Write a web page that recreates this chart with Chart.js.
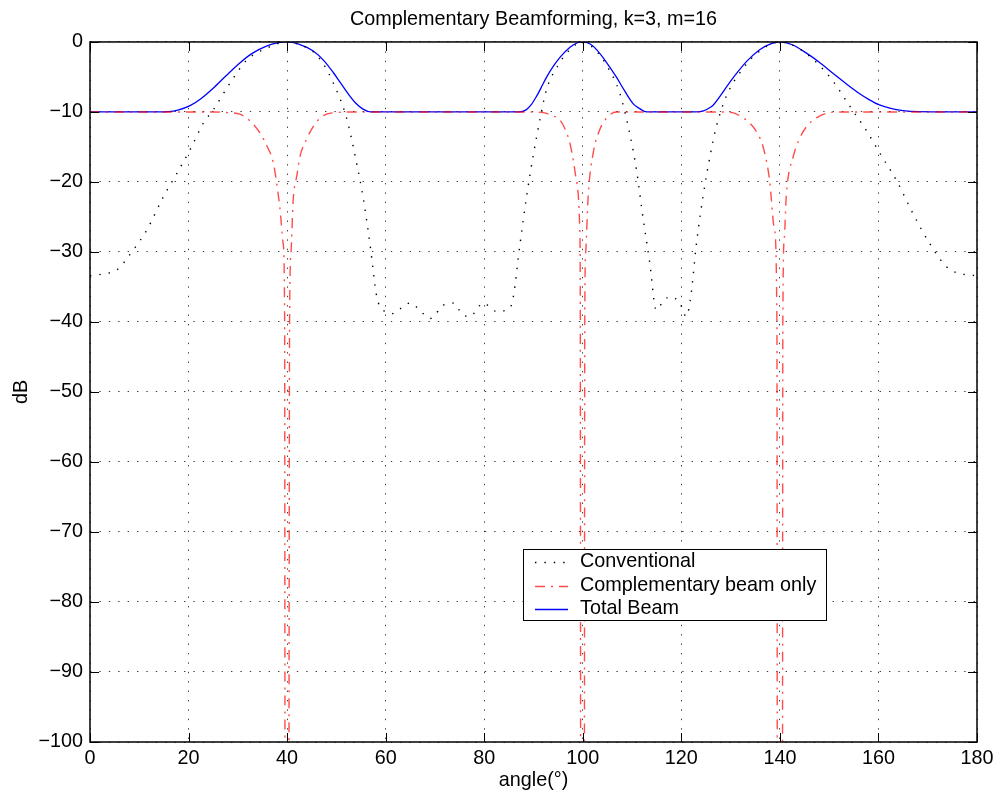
<!DOCTYPE html>
<html>
<head>
<meta charset="utf-8">
<title>Complementary Beamforming</title>
<script src="https://cdn.jsdelivr.net/npm/chart.js@4.4.1/dist/chart.umd.min.js"></script>
<style>
  html, body { margin: 0; padding: 0; background: #fff; }
  canvas { display: block; }
</style>
</head>
<body>
<canvas id="beam_chart" width="1001" height="799"></canvas>
<script>
// values (angle in degrees, level in dB)
const xTicks = [0, 20, 40, 60, 80, 100, 120, 140, 160, 180];
const yTicks = [0, -10, -20, -30, -40, -50, -60, -70, -80, -90, -100];

const convAngle = [0, 3, 5.4, 8.8, 11.5, 14.9, 17.6, 20.3, 23, 25, 28.4, 31.8, 35.8, 40, 44, 45.3, 47.5, 49.4, 52, 54.1,
  55.4, 56.8, 58.2, 59.5, 61.5, 63.2, 64.9, 67.6, 69, 71.7, 73.7, 75.7, 77.1, 79.8, 82.5, 85.2, 85.9, 87.2, 88.6, 89.9,
  91.3, 92.6, 95.3, 97.5, 100, 102.5, 104.8, 107.5, 109.5, 110.9, 112.2, 113.6, 114.9, 116.2, 117.6, 119.7, 121, 122, 123, 124.4,
  125.8, 127.1, 129.1, 132.5, 135.9, 140, 144, 148.1, 151, 154.2, 157.5, 160.9, 163.6, 167, 170.4, 173.8, 176, 178.5, 180];
const convDb = [-33.4, -33.1, -32.6, -29.7, -26.9, -22.1, -18.8, -15.4, -11.6, -9.7, -5.9, -2.6, -0.9, 0, -0.8, -1.4, -3.3, -5.9, -10.7, -17.3,
  -22.1, -28.8, -36.4, -38.3, -38.8, -38, -37.3, -38.8, -39.5, -37.6, -37.3, -39, -39.2, -37.3, -38.5, -38, -36.4, -29.2, -22.1, -16.4,
  -11.1, -6.9, -3, -1, 0, -1.1, -3.3, -7.3, -13, -18.3, -25, -31.6, -38.3, -37.2, -36.4, -37.3, -39.2, -35.9, -29.2, -22.1,
  -16.4, -12.1, -7.8, -3.8, -1.3, 0, -1, -3.4, -5.8, -9.2, -12.6, -16.6, -19.7, -24.5, -28.8, -32.1, -33, -33.3, -33.4];

const compAngle = [0, 25, 28, 30.4, 32.5, 34.5, 36, 37.2, 38.5, 39.2, 39.5, 39.6, 40.3, 40.5, 40.8, 41.2, 42, 42.6, 44, 45.3,
  46.5, 48, 50, 52, 90, 92, 93.7, 95.3, 96.5, 97.4, 98.1, 98.7, 99.4, 99.5, 99.6, 100.3, 100.4, 100.6, 101.1, 102.1,
  103.4, 104.8, 106.8, 128, 130.4, 132.2, 133.9, 135.4, 136.6, 137.9, 138.9, 139.4, 139.5, 140.5, 140.6, 140.9, 141.3, 142.7, 144, 145.4,
  147.5, 149.4, 152, 180];
const compDb = [-10, -10, -10.1, -10.3, -11.3, -13, -15, -17.3, -23.5, -28.8, -40, -130, -130, -40, -30, -23, -19, -16.4, -13.8, -12.1,
  -11, -10.3, -10.1, -10, -10, -10.1, -10.5, -11.1, -12.6, -14.5, -17, -19.7, -26.9, -40, -130, -130, -40, -30, -22, -15.9,
  -12.6, -10.9, -10, -10, -10.1, -10.7, -11.6, -13, -15, -19.7, -26.9, -40, -130, -130, -40, -28, -22, -16.4, -13.8, -12.1,
  -10.8, -10.2, -10, -10];

const totalAngle = [0, 12, 16, 18, 20.3, 22.5, 25, 27.5, 30.4, 33, 35.8, 38, 40, 42.5, 45.3, 47.5, 49.4, 50.7, 52.7, 54,
  55.4, 57, 87, 88.5, 89.5, 90.5, 91.5, 92.6, 94, 95.5, 97.4, 98.8, 100, 101.5, 102.8, 104.8, 106.8, 108.5, 110.2, 111.5,
  112.5, 113.5, 123, 124.5, 125.5, 126.5, 127.8, 129.5, 131.2, 133.5, 135.9, 138, 140, 142.5, 145.4, 148, 150.8, 153.5, 156.2, 158,
  160.2, 162.5, 165, 168, 180];
const totalDb = [-10, -10, -9.95, -9.7, -9.1, -8.1, -6.6, -4.9, -3, -1.6, -0.6, -0.12, 0, -0.35, -1.3, -2.7, -4.4, -5.7, -7.7, -8.8,
  -9.6, -10, -10, -9.7, -9, -7.9, -6.6, -5.1, -3.5, -2.1, -0.75, -0.15, 0, -0.3, -1.1, -2.9, -5, -7, -8.8, -9.5,
  -9.9, -10, -10, -9.85, -9.5, -9, -7.8, -6.1, -4.5, -2.6, -1.1, -0.3, 0, -0.4, -1.6, -2.9, -4.5, -6, -7.4, -8.2,
  -9, -9.5, -9.8, -9.95, -10];

const toPoints = (xs, ys) => xs.map((x, i) => ({ x: x, y: ys[i] }));
const minus = v => (v < 0 ? '\u2212' + Math.abs(v) : String(v));

const FS = 19.8; // text size
Chart.defaults.font.family = '"Liberation Sans", Arial, Helvetica, sans-serif';
Chart.defaults.color = '#000';

// black frame with inward ticks on all four sides (matlab style)
const frame = {
  id: 'frame',
  afterDatasetsDraw(chart) {
    const { ctx, chartArea: a, scales: { x, y } } = chart;
    const len = 9;
    ctx.save();
    ctx.setLineDash([]);
    ctx.strokeStyle = '#000';
    ctx.lineWidth = 1.5;
    ctx.strokeRect(a.left, a.top, a.right - a.left, a.bottom - a.top);
    ctx.lineWidth = 1;
    ctx.beginPath();
    xTicks.forEach(v => {
      const px = Math.round(x.getPixelForValue(v)) + 0.5;
      ctx.moveTo(px, a.top); ctx.lineTo(px, a.top + len);
      ctx.moveTo(px, a.bottom); ctx.lineTo(px, a.bottom - len);
    });
    yTicks.forEach(v => {
      const py = Math.round(y.getPixelForValue(v)) + 0.5;
      ctx.moveTo(a.left, py); ctx.lineTo(a.left + len, py);
      ctx.moveTo(a.right, py); ctx.lineTo(a.right - len, py);
    });
    ctx.stroke();
    ctx.restore();
  }
};

// boxed legend inside the plot, lower middle
const boxLegend = {
  id: 'boxLegend',
  afterDraw(chart) {
    const { ctx } = chart;
    const box = { left: 523.5, top: 549.5, right: 826.5, bottom: 620.5 };
    ctx.save();
    ctx.fillStyle = '#fff';
    ctx.fillRect(box.left, box.top, box.right - box.left, box.bottom - box.top);
    ctx.strokeStyle = '#000';
    ctx.lineWidth = 1;
    ctx.setLineDash([]);
    ctx.strokeRect(box.left, box.top, box.right - box.left, box.bottom - box.top);
    ctx.font = FS + 'px "Liberation Sans", Arial, Helvetica, sans-serif';
    ctx.textBaseline = 'middle';
    ctx.textAlign = 'left';
    chart.data.datasets.forEach((ds, i) => {
      const yy = 562 + i * 23.5;
      ctx.beginPath();
      ctx.strokeStyle = ds.borderColor;
      ctx.lineWidth = ds.borderWidth;
      ctx.setLineDash(ds.borderDash || []);
      ctx.moveTo(535, Math.round(yy) + 0.5);
      ctx.lineTo(568, Math.round(yy) + 0.5);
      ctx.stroke();
      ctx.fillStyle = '#000';
      ctx.fillText(ds.label, 580, yy);
    });
    ctx.restore();
  }
};

const ctx = document.getElementById('beam_chart').getContext('2d');

new Chart(ctx, {
  type: 'line',
  data: {
    datasets: [
      {
        label: 'Conventional',
        data: toPoints(convAngle, convDb),
        borderColor: '#000',
        borderWidth: 1.4,
        borderDash: [1.4, 8],
        order: 1
      },
      {
        label: 'Complementary beam only',
        data: toPoints(compAngle, compDb),
        borderColor: 'rgba(255,0,0,0.7)',
        borderWidth: 1.4,
        borderDash: [10, 6, 2, 6],
        order: 0
      },
      {
        label: 'Total Beam',
        data: toPoints(totalAngle, totalDb),
        borderColor: 'rgb(0,0,255)',
        borderWidth: 1.3,
        order: 2
      }
    ]
  },
  options: {
    responsive: false,
    animation: false,
    devicePixelRatio: 1,
    layout: { padding: { left: 0, right: 24, top: 0, bottom: 0 } },
    elements: {
      point: { radius: 0 },
      line: { fill: false, cubicInterpolationMode: 'monotone' }
    },
    plugins: {
      legend: { display: false },
      tooltip: { enabled: false },
      title: {
        display: true,
        fullSize: false,
        text: 'Complementary Beamforming, k=3, m=16',
        font: { size: FS, weight: 'normal' },
        color: '#000',
        padding: { top: 7.6, bottom: 10.6 }
      }
    },
    scales: {
      x: {
        type: 'linear',
        min: 0,
        max: 180,
        afterBuildTicks: s => { s.ticks = xTicks.map(v => ({ value: v })); },
        afterFit: s => { s.height = 57; },
        ticks: { font: { size: FS }, padding: 5, maxRotation: 0, autoSkip: false },
        grid: { drawTicks: false, color: 'rgba(0,0,0,0.75)', lineWidth: 1 },
        border: { display: false, dash: [1.4, 8] },
        title: { display: true, text: 'angle(°)', font: { size: FS }, padding: { top: 0, bottom: 6.1 } }
      },
      y: {
        min: -100,
        max: 0,
        afterBuildTicks: s => { s.ticks = yTicks.map(v => ({ value: v })); },
        afterFit: s => { s.width = 90; },
        ticks: { font: { size: FS }, padding: 7, autoSkip: false, callback: v => minus(v) },
        grid: { drawTicks: false, color: 'rgba(0,0,0,0.75)', lineWidth: 1 },
        border: { display: false, dash: [1.4, 8] },
        title: { display: true, text: 'dB', font: { size: FS }, padding: { top: 10.1, bottom: 0 } }
      }
    }
  },
  plugins: [frame, boxLegend]
});
</script>
</body>
</html>
